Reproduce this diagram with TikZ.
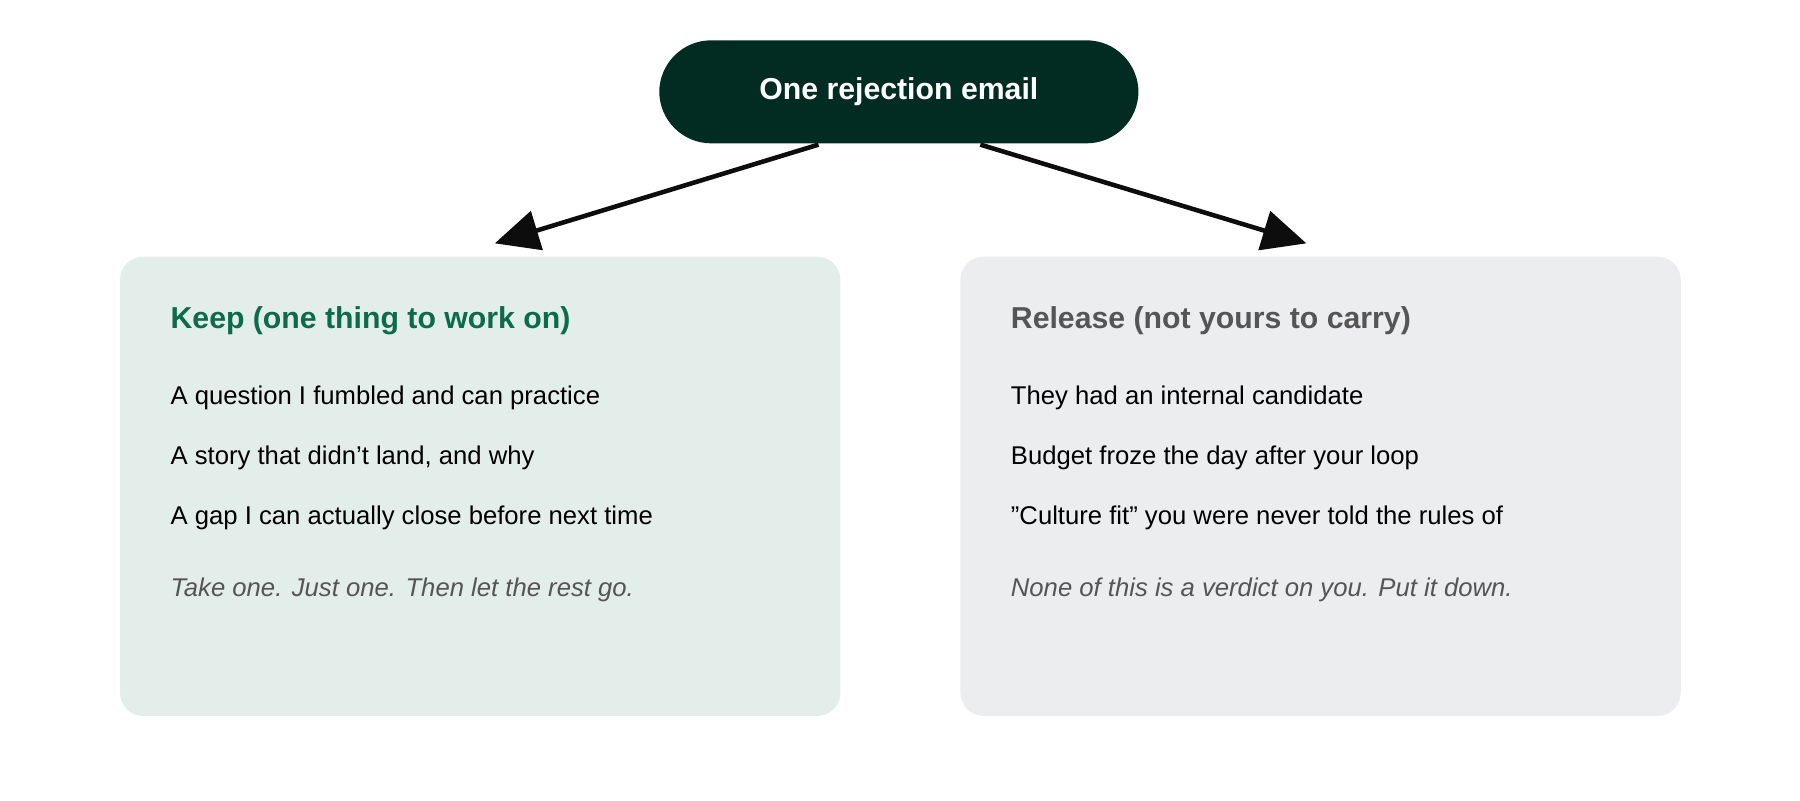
\documentclass[tikz,border=0pt]{standalone}
\usepackage{fontspec}
\setmainfont{Liberation Sans}
\usetikzlibrary{arrows.meta,positioning}
\definecolor{topgreen}{HTML}{022C22}
\definecolor{keepfill}{HTML}{E3EDE9}
\definecolor{relfill}{HTML}{ECEDEF}
\definecolor{keepgreen}{HTML}{0B6B4A}
\definecolor{relgray}{HTML}{555555}
\begin{document}
\begin{tikzpicture}[
    x=0.01148cm, y=-0.01148cm,
    >={Triangle[length=0.44cm,width=0.4cm]},
    % styles
    topnode/.style={
        fill=topgreen,
        rounded corners=0.52cm,
        minimum width=4.79cm,
        minimum height=1.03cm,
        text=white,
        font=\fontsize{8.6}{10}\selectfont\bfseries
    },
    card/.style={
        rounded corners=0.23cm,
        minimum width=7.2cm,
        minimum height=4.59cm,
        anchor=north west
    },
    title/.style={anchor=west, inner sep=0pt, font=\fontsize{8.6}{10}\selectfont\bfseries},
    item/.style={anchor=west, inner sep=0pt, font=\fontsize{7.3}{9}\selectfont},
    note/.style={anchor=west, inner sep=0pt, text=relgray, font=\fontsize{7.3}{9}\selectfont\itshape},
    link/.style={->, line width=1.3pt, draw=black!95, fill=black!95}
]
    \useasboundingbox (0,0) rectangle (1568,697);

    % --- top node ---
    \node[topnode] (email) at (783,80) {One rejection email};

    % --- cards ---
    \node[card, fill=keepfill] (keep) at (104,223) {};
    \node[card, fill=relfill] (release) at (836,223) {};

    % --- keep texts ---
    \node[title, text=keepgreen] (keeptitle) at (148,279) {Keep (one thing to work on)};
    \node[item] (keepa) at (148,347) {A question I fumbled and can practice};
    \node[item] (keepb) at (148,399) {A story that didn't land, and why};
    \node[item] (keepc) at (148,451) {A gap I can actually close before next time};
    \node[note] (keepnote) at (148,514) {Take one. Just one. Then let the rest go.};

    % --- release texts ---
    \node[title, text=relgray] (reltitle) at (880,279) {Release (not yours to carry)};
    \node[item] (rela) at (880,347) {They had an internal candidate};
    \node[item] (relb) at (880,399) {Budget froze the day after your loop};
    \node[item] (relc) at (880,451) {"Culture fit" you were never told the rules of};
    \node[note] (relnote) at (880,514) {None of this is a verdict on you. Put it down.};

    % --- arrows ---
    \coordinate (outl) at (713,126);
    \coordinate (outr) at (854,126);
    \coordinate (inl) at (431,212);
    \coordinate (inr) at (1138,212);
    \draw[link] (outl) -- (inl);
    \draw[link] (outr) -- (inr);
\end{tikzpicture}
\end{document}
